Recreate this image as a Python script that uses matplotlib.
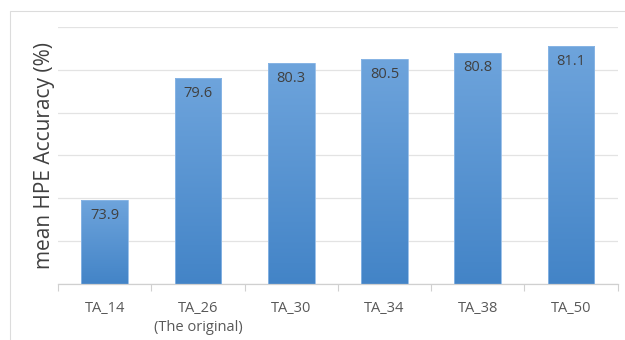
import numpy as np
import matplotlib
matplotlib.use("Agg")
import matplotlib.pyplot as plt
from matplotlib.patches import Rectangle
from matplotlib.colors import LinearSegmentedColormap

categories = ["TA_14", "TA_26\n(The original)", "TA_30", "TA_34", "TA_38", "TA_50"]
accuracy = [73.9, 79.6, 80.3, 80.5, 80.8, 81.1]
value_labels = ["73.9", "79.6", "80.3", "80.5", "80.8", "81.1"]

plt.rcParams['font.family'] = ['Open Sans', 'DejaVu Sans']

fig = plt.figure(figsize=(6.25, 3.4), dpi=100)
ax = fig.add_axes([0.0928, 0.1656, 0.8955, 0.755])

# light frame around the chart area
fig.patches.append(Rectangle((10 / 625, -0.05), 1.2, 1 - 11 / 340 + 0.05,
                             transform=fig.transFigure, fill=False,
                             edgecolor="#dcdcdc", linewidth=0.8))

x = np.arange(len(categories))
bars = ax.bar(x, accuracy, width=0.5, color="none", edgecolor="#8db8e6",
              linewidth=0.6, zorder=3)

# vertical gradient inside each bar
cmap = LinearSegmentedColormap.from_list("bluegrad", ["#4384c7", "#6ea4dc"])
grad = np.linspace(0, 1, 256).reshape(-1, 1)
for b in bars:
    x0, y0 = b.get_x(), b.get_y()
    im = ax.imshow(grad, cmap=cmap, aspect="auto", origin="lower",
                   extent=[x0, x0 + b.get_width(), 70, b.get_height()], zorder=2)
    im.set_clip_path(b)

for xi, v, lab in zip(x, accuracy, value_labels):
    ax.text(xi, v - 0.35, lab, ha="center", va="top", fontsize=10.5,
            color="#404040", zorder=4)

ax.set_xlim(-0.5, len(categories) - 0.5)
ax.set_ylim(70, 82)
ax.set_yticks(np.arange(70, 83, 2))
ax.set_yticklabels([])
ax.tick_params(axis="y", length=0)
ax.yaxis.grid(True, color="#e3e3e3", linewidth=0.9, zorder=0)
ax.set_axisbelow(True)

ax.set_xticks(x)
ax.set_xticklabels(categories, fontsize=10.5, color="#595959", linespacing=1.35)
ax.set_xticks(np.arange(-0.5, len(categories), 1), minor=True)
ax.tick_params(axis="x", which="major", length=0, pad=12.5)
ax.tick_params(axis="x", which="minor", length=5, color="#d0d0d0", width=0.8)

for s in ["top", "right", "left"]:
    ax.spines[s].set_visible(False)
ax.spines["bottom"].set_color("#d0d0d0")
ax.spines["bottom"].set_linewidth(0.9)

ax.set_ylabel("mean HPE Accuracy (%)", fontsize=15, color="#404040")
ax.yaxis.set_label_coords(-0.006, 0.5)

fig.savefig("out.png", dpi=100)
